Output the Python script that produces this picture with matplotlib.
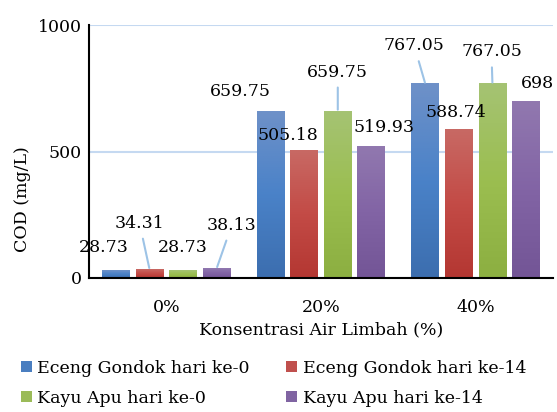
import numpy as np
import matplotlib
matplotlib.use("Agg")
import matplotlib.pyplot as plt
from matplotlib.colors import LinearSegmentedColormap
from matplotlib.patches import Patch

# data
categories = ["0%", "20%", "40%"]
series_names = ["Eceng Gondok hari ke-0", "Eceng Gondok hari ke-14",
                "Kayu Apu hari ke-0", "Kayu Apu hari ke-14"]
eg_0 = [28.73, 659.75, 767.05]
eg_14 = [34.31, 505.18, 588.74]
ka_0 = [28.73, 659.75, 767.05]
ka_14 = [38.13, 519.93, 698]
label_text = [["28.73", "659.75", "767.05"],
              ["34.31", "505.18", "588.74"],
              ["28.73", "659.75", "767.05"],
              ["38.13", "519.93", "698"]]

# styling
plt.rcParams['font.family'] = ['DejaVu Serif']
fs = 12.5
# gradient stops (top, middle, bottom)
grads = [["#6E91C8", "#4A82C8", "#3C6EAF"],
         ["#C86964", "#C34B46", "#B43732"],
         ["#A5C373", "#9BBE50", "#8CAF41"],
         ["#9178AF", "#8264A5", "#735596"]]
legend_cols = ["#4A7EC0", "#C0504D", "#9BBB59", "#8064A2"]
leader_col = "#9DC3E6"
# label offsets in pixels from bar top (dx, dy, leader?)
offsets = [[(-12, 23, False), (-30, 20, False), (-11, 38, True)],
           [(-10, 46, True), (-16, 15, False), (-3, 17, False)],
           [(0, 23, False), (0, 39, True), (-1, 32, True)],
           [(15, 43, True), (13, 19, False), (11, 18, False)]]

fig = plt.figure(figsize=(5.57, 4.12), dpi=100)
ax = fig.add_axes([89 / 557, 1 - 278 / 412, 464 / 557, 253 / 412])

x = np.arange(len(categories))
width = 0.18
step = 0.217
all_series = [eg_0, eg_14, ka_0, ka_14]

for i, vals in enumerate(all_series):
    pos = x + (i - 1.5) * step
    bars = ax.bar(pos, vals, width, color="none", edgecolor="none", zorder=3)
    cmap = LinearSegmentedColormap.from_list("g%d" % i, grads[i][::-1])
    for j, b in enumerate(bars):
        x0, w, h = b.get_x(), b.get_width(), b.get_height()
        grad = np.linspace(0, 1, 100).reshape(-1, 1)
        ax.imshow(grad, cmap=cmap, origin="lower", aspect="auto",
                  extent=(x0, x0 + w, 0, h), zorder=3)
        dx, dy, lead = offsets[i][j]
        ap = None
        if lead:
            ap = dict(arrowstyle="-", color=leader_col, lw=1.5,
                      shrinkA=3, shrinkB=1)
        ax.annotate(label_text[i][j], xy=(x0 + w / 2, h),
                    xytext=(dx, dy), textcoords="offset pixels",
                    ha="center", va="center", fontsize=fs,
                    arrowprops=ap, zorder=5, annotation_clip=False)

ax.set_xlim(-0.5, 2.5)
ax.set_ylim(0, 1000)
ax.set_yticks([0, 500, 1000])
ax.set_xticks(x)
ax.set_xticklabels(categories, fontsize=fs)
ax.tick_params(axis="both", length=0, labelsize=fs)
ax.tick_params(axis="y", pad=5)
ax.tick_params(axis="x", pad=15)
ax.grid(axis="y", color="#C5D9F1", lw=1.5, zorder=0)
ax.set_axisbelow(True)
for s in ["top", "right"]:
    ax.spines[s].set_visible(False)
ax.spines["left"].set_linewidth(1.5)
ax.spines["bottom"].set_linewidth(1.5)
ax.spines["bottom"].set_zorder(6)
ax.set_xlabel("Konsentrasi Air Limbah (%)", fontsize=fs, labelpad=4)
ax.set_ylabel("COD (mg/L)", fontsize=fs)
ax.yaxis.set_label_coords(-0.125, 0.31)

# legend filled row by row like the reference
order = [0, 2, 1, 3]
handles = [Patch(facecolor=legend_cols[k], edgecolor="none") for k in order]
names = [series_names[k] for k in order]
fig.legend(handles, names, ncol=2, loc="upper left",
           bbox_to_anchor=(12 / 557, 1 - 351 / 412), frameon=False,
           fontsize=fs, handlelength=0.65, handleheight=0.65,
           handletextpad=0.3, columnspacing=2.1, labelspacing=0.75,
           borderpad=0)

fig.savefig("out.png", dpi=100)
